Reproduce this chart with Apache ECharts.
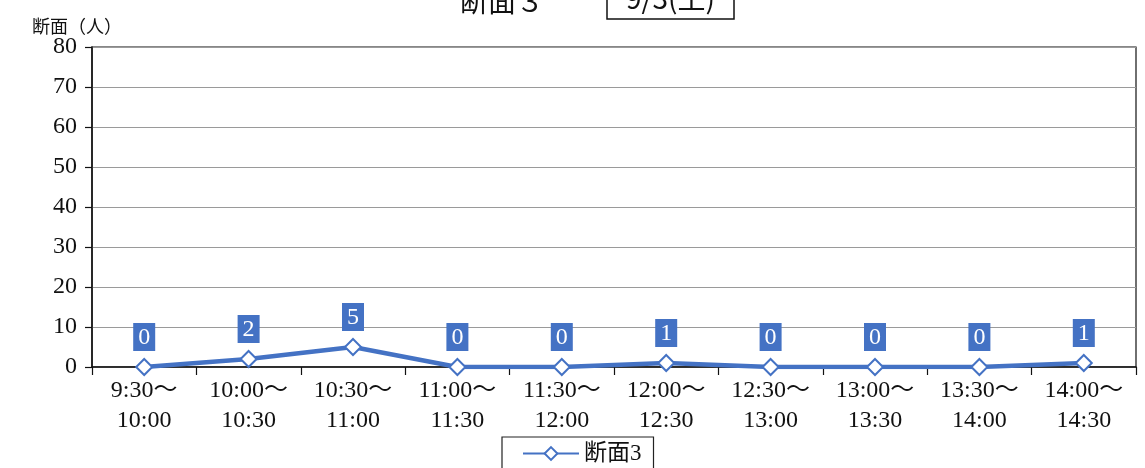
<!DOCTYPE html>
<html>
<head>
<meta charset="utf-8">
<script src="https://cdn.jsdelivr.net/npm/echarts@6/dist/echarts.min.js"></script>
<style>
  html, body { margin: 0; padding: 0; background: #fff; }
  #chart { width: 1145px; height: 468px; }
</style>
</head>
<body>
<div id="chart"></div>
<script>
// Half-hour time slots and counted people for cross-section 3
const categories = ['9:30〜\n10:00', '10:00〜\n10:30', '10:30〜\n11:00', '11:00〜\n11:30', '11:30〜\n12:00',
                    '12:00〜\n12:30', '12:30〜\n13:00', '13:00〜\n13:30', '13:30〜\n14:00', '14:00〜\n14:30'];
const seriesName = '断面3';
const counts = [0, 2, 5, 0, 0, 1, 0, 0, 0, 1];
const yMin = 0, yMax = 80, yStep = 10;
const titleText = '断面３';
const dateText = '9/3(土)';
const yAxisTitle = '断面（人）';

const serif = '"Liberation Serif", "DejaVu Serif", "Noto Sans CJK JP", serif';
const sans = '"Noto Sans CJK JP", "Noto Sans", sans-serif';
const blue = '#4472C4';

const chart = echarts.init(document.getElementById('chart'), null, { renderer: 'canvas' });
chart.setOption({
  animation: false,
  backgroundColor: '#fff',
  title: [
    { text: titleText, left: 455, top: -18, textStyle: { fontFamily: sans, fontSize: 28, fontWeight: 'normal', color: '#111' } },
    { text: dateText, left: 607, top: -18, padding: [2, 19, 7, 19], borderColor: '#111', borderWidth: 1.5,
      textStyle: { fontFamily: sans, fontSize: 28, fontWeight: 'normal', color: '#111' } },
    { text: yAxisTitle, left: 27, top: 12, textStyle: { fontFamily: sans, fontSize: 18, fontWeight: 'normal', color: '#111' } }
  ],
  grid: { left: 92, right: 9, top: 47, bottom: 101, show: true, borderColor: '#111', borderWidth: 1.2 },
  legend: {
    data: [seriesName],
    left: 502, top: 437,
    padding: [5, 12, 6, 20],
    borderColor: '#222', borderWidth: 1.2,
    itemWidth: 56, itemHeight: 16,
    itemGap: 4,
    textStyle: { fontFamily: serif, fontSize: 23, color: '#111' }
  },
  xAxis: {
    type: 'category',
    data: categories,
    boundaryGap: true,
    axisLine: { lineStyle: { color: '#111', width: 1.5 } },
    axisTick: { show: true, length: 8, lineStyle: { color: '#111', width: 1.2 } },
    axisLabel: { fontFamily: serif, fontSize: 24, color: '#111', lineHeight: 30, margin: 9, interval: 0 }
  },
  yAxis: {
    type: 'value',
    min: yMin, max: yMax, interval: yStep,
    axisLine: { show: true, lineStyle: { color: '#111', width: 1.5 } },
    axisTick: { show: true, length: 7, lineStyle: { color: '#111', width: 1.2 } },
    axisLabel: { fontFamily: serif, fontSize: 24, color: '#111', margin: 15 },
    splitLine: { lineStyle: { color: '#9a9a9a', width: 1 } }
  },
  series: [{
    name: seriesName,
    type: 'line',
    data: counts,
    symbol: 'emptyDiamond',
    symbolSize: 16,
    lineStyle: { color: blue, width: 4.5 },
    itemStyle: { color: blue, borderWidth: 3 },
    label: {
      show: true, position: 'top', distance: 7,
      backgroundColor: blue, color: '#fff',
      fontFamily: serif, fontSize: 24,
      padding: [3, 5, 1, 5]
    }
  }]
});
</script>
</body>
</html>
